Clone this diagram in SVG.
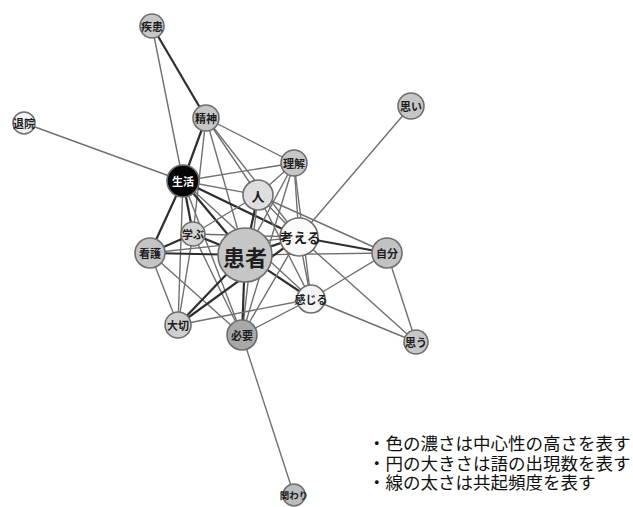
<svg xmlns="http://www.w3.org/2000/svg" width="633" height="507" viewBox="0 0 633 507">
<style>
.e{stroke:#707070;stroke-width:1.4;fill:none}
.t{stroke:#2e2e2e;stroke-width:2.2;fill:none}
.n{stroke:#6e6e6e;stroke-width:1.6}
.l{font-family:"Noto Sans CJK JP",sans-serif;font-weight:bold;font-size:11px;fill:#1e1e1e;text-anchor:middle;dominant-baseline:central}
.g{font-family:"Liberation Serif","Noto Sans CJK JP",serif;font-size:17.5px;fill:#111}
</style>
<rect width="633" height="507" fill="#fff"/>
<g id="edges">
<line class="t" x1="152" y1="26" x2="206" y2="118"/>
<line class="e" x1="152" y1="26" x2="183" y2="181"/>
<line class="e" x1="24" y1="123" x2="183" y2="181"/>
<line class="e" x1="411" y1="106" x2="299" y2="237"/>
<line class="t" x1="206" y1="118" x2="183" y2="181"/>
<line class="e" x1="206" y1="118" x2="294" y2="163"/>
<line class="e" x1="206" y1="118" x2="193" y2="234"/>
<line class="e" x1="206" y1="118" x2="245" y2="255"/>
<line class="e" x1="206" y1="118" x2="258" y2="195"/>
<line class="e" x1="206" y1="118" x2="299" y2="237"/>
<line class="e" x1="183" y1="181" x2="294" y2="163"/>
<line class="e" x1="183" y1="181" x2="258" y2="195"/>
<line class="t" x1="183" y1="181" x2="299" y2="237"/>
<line class="t" x1="183" y1="181" x2="245" y2="255"/>
<line class="t" x1="183" y1="181" x2="193" y2="234"/>
<line class="t" x1="183" y1="181" x2="150" y2="253"/>
<line class="e" x1="183" y1="181" x2="178" y2="325"/>
<line class="e" x1="183" y1="181" x2="311" y2="299"/>
<line class="e" x1="183" y1="181" x2="242" y2="335"/>
<line class="e" x1="294" y1="163" x2="258" y2="195"/>
<line class="e" x1="294" y1="163" x2="299" y2="237"/>
<line class="e" x1="294" y1="163" x2="245" y2="255"/>
<line class="e" x1="294" y1="163" x2="311" y2="299"/>
<line class="e" x1="294" y1="163" x2="242" y2="335"/>
<line class="t" x1="258" y1="195" x2="245" y2="255"/>
<line class="e" x1="258" y1="195" x2="299" y2="237"/>
<line class="e" x1="258" y1="195" x2="193" y2="234"/>
<line class="e" x1="258" y1="195" x2="387" y2="253"/>
<line class="e" x1="258" y1="195" x2="311" y2="299"/>
<line class="e" x1="258" y1="195" x2="242" y2="335"/>
<line class="t" x1="193" y1="234" x2="245" y2="255"/>
<line class="e" x1="193" y1="234" x2="299" y2="237"/>
<line class="t" x1="193" y1="234" x2="150" y2="253"/>
<line class="e" x1="193" y1="234" x2="178" y2="325"/>
<line class="e" x1="193" y1="234" x2="242" y2="335"/>
<line class="t" x1="150" y1="253" x2="245" y2="255"/>
<line class="e" x1="150" y1="253" x2="299" y2="237"/>
<line class="e" x1="150" y1="253" x2="178" y2="325"/>
<line class="e" x1="150" y1="253" x2="242" y2="335"/>
<line class="t" x1="245" y1="255" x2="299" y2="237"/>
<line class="e" x1="245" y1="255" x2="387" y2="253"/>
<line class="t" x1="245" y1="255" x2="311" y2="299"/>
<line class="t" x1="245" y1="255" x2="178" y2="325"/>
<line class="t" x1="245" y1="255" x2="242" y2="335"/>
<line class="t" x1="299" y1="237" x2="387" y2="253"/>
<line class="e" x1="299" y1="237" x2="311" y2="299"/>
<line class="e" x1="299" y1="237" x2="242" y2="335"/>
<line class="t" x1="299" y1="237" x2="178" y2="325"/>
<line class="e" x1="299" y1="237" x2="416" y2="342"/>
<line class="e" x1="387" y1="253" x2="311" y2="299"/>
<line class="e" x1="387" y1="253" x2="416" y2="342"/>
<line class="e" x1="311" y1="299" x2="416" y2="342"/>
<line class="e" x1="311" y1="299" x2="178" y2="325"/>
<line class="e" x1="311" y1="299" x2="242" y2="335"/>
<line class="e" x1="242" y1="335" x2="294" y2="495"/>
</g>
<g id="n-shikkan"><circle class="n" cx="152" cy="26" r="12" fill="#c6c6c6"/><text class="l" x="152" y="26">疾患</text></g>
<g id="n-seishin"><circle class="n" cx="206" cy="118" r="13" fill="#c6c6c6"/><text class="l" x="206" y="118">精神</text></g>
<g id="n-taiin"><circle class="n" cx="24" cy="123" r="11" fill="#f2f2f2"/><text class="l" x="24" y="123">退院</text></g>
<g id="n-omoi"><circle class="n" cx="411" cy="106" r="13" fill="#c6c6c6"/><text class="l" x="411" y="106">思い</text></g>
<g id="n-rikai"><circle class="n" cx="294" cy="163" r="13" fill="#c6c6c6"/><text class="l" x="294" y="163">理解</text></g>
<g id="n-seikatsu"><circle class="n" cx="183" cy="181" r="16" fill="#050505"/><text class="l" x="183" y="181" style="fill:#fff">生活</text></g>
<g id="n-hito"><circle class="n" cx="258" cy="195" r="15" fill="#dedede"/><text class="l" x="258" y="195" style="font-size:13px">人</text></g>
<g id="n-manabu"><circle class="n" cx="193" cy="234" r="12" fill="#d4d4d4"/><text class="l" x="193" y="234">学ぶ</text></g>
<g id="n-kangaeru"><circle class="n" cx="299" cy="237" r="19" fill="#fafafa"/><text class="l" x="300" y="237" style="font-size:14px">考える</text></g>
<g id="n-kango"><circle class="n" cx="150" cy="253" r="15" fill="#c4c4c4"/><text class="l" x="150" y="253">看護</text></g>
<g id="n-kanja"><circle class="n" cx="245" cy="255" r="27" fill="#c6c6c6"/><text class="l" x="245" y="256" style="font-size:22px">患者</text></g>
<g id="n-jibun"><circle class="n" cx="387" cy="253" r="15" fill="#c2c2c2"/><text class="l" x="387" y="253">自分</text></g>
<g id="n-kanjiru"><circle class="n" cx="311" cy="299" r="14" fill="#f4f4f4"/><text class="l" x="311" y="299">感じる</text></g>
<g id="n-taisetsu"><circle class="n" cx="178" cy="325" r="13" fill="#cfcfcf"/><text class="l" x="178" y="325">大切</text></g>
<g id="n-hitsuyou"><circle class="n" cx="242" cy="335" r="15" fill="#a8a8a8"/><text class="l" x="242" y="335">必要</text></g>
<g id="n-omou"><circle class="n" cx="416" cy="342" r="12" fill="#c6c6c6"/><text class="l" x="416" y="342">思う</text></g>
<g id="n-kakawari"><circle class="n" cx="294" cy="495" r="11" fill="#bdbdbd"/><text class="l" x="294" y="495" style="font-size:9.5px">関わり</text></g>
<g id="legend">
<text class="g" x="368" y="450">・色の濃さは中心性の高さを表す</text>
<text class="g" x="368" y="470">・円の大きさは語の出現数を表す</text>
<text class="g" x="368" y="489">・線の太さは共起頻度を表す</text>
</g>
</svg>
